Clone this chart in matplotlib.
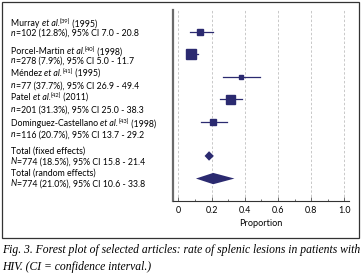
import matplotlib
matplotlib.use("Agg")
import matplotlib.pyplot as plt
from matplotlib.patches import Rectangle

# ========== Data ==========
studies = ["Murray", "Porcel-Martin", "Méndez", "Patel", "Dominguez-Castellano"]
refs = [39, 40, 41, 42, 43]
years = [1995, 1998, 1995, 2011, 1998]
n_pat = [102, 278, 77, 201, 116]
prop = [0.128, 0.079, 0.377, 0.313, 0.207]
ci_lo = [0.070, 0.050, 0.269, 0.250, 0.137]
ci_hi = [0.208, 0.117, 0.494, 0.383, 0.292]

pooled_names = ["Total (fixed effects)", "Total (random effects)"]
pooled_n = [774, 774]
pooled_prop = [0.185, 0.210]
pooled_lo = [0.158, 0.106]
pooled_hi = [0.214, 0.338]

xticks = [0, 0.2, 0.4, 0.6, 0.8, 1.0]
xticklabels = ["0", "0.2", "0.4", "0.6", "0.8", "1.0"]

# ========== Style / layout ==========
W, H = 364, 278
NAVY = "#2b2a70"
study_rows = [0, 1, 2, 3, 4]
pooled_rows = [5.5, 6.5]
square_px = [6, 10, 4, 9, 6]
diamond_half = [0.21, 0.25]
line1_y = [24, 51.7, 73.3, 97.3, 124, 150.7, 173.3]   # text centres, px from top
line2_y = [33.3, 60.7, 85.7, 110, 135, 161.7, 184]

plt.rcParams["font.family"] = ["Lato", "DejaVu Sans"]

fig = plt.figure(figsize=(W / 100, H / 100), dpi=100)
ax = fig.add_axes([172.7 / W, 1 - 200.7 / H, 176.6 / W, 190.7 / H])
renderer = fig.canvas.get_renderer()


def draw_runs(x_px, y_px, runs):
    # runs: (text, style, fontsize, raise_px) placed one after another
    x = x_px
    for s, style, size, up in runs:
        t = fig.text(x / W, 1 - (y_px - up) / H, s, fontsize=size, style=style,
                     va="baseline", ha="left")
        x += t.get_window_extent(renderer).width


# grid
for xt in xticks:
    ax.axvline(xt, color="#c8c8c8", lw=0.7, ls=(0, (2.5, 2)), zorder=0)

# studies
for i in range(len(studies)):
    y = study_rows[i]
    ax.plot([ci_lo[i], ci_hi[i]], [y, y], color=NAVY, lw=0.9, zorder=2)
    ax.plot(prop[i], y, marker="s", ms=square_px[i] * 0.72, color=NAVY,
            mec=NAVY, zorder=3)

# pooled diamonds
for j in range(len(pooled_names)):
    y = pooled_rows[j]
    h = diamond_half[j]
    ax.fill([pooled_lo[j], pooled_prop[j], pooled_hi[j], pooled_prop[j]],
            [y, y - h, y, y + h], color=NAVY, zorder=3, lw=0)

ax.set_xlim(-0.034, 1.03)
ax.set_ylim(7.48, -0.96)
ax.set_yticks([])
ax.set_xticks(xticks)
ax.set_xticklabels(xticklabels, fontsize=6.4)
ax.set_xticks([0.1, 0.3, 0.5, 0.7, 0.9], minor=True)
ax.tick_params(axis="x", which="major", direction="in", length=3, width=0.6,
               color="#555555", pad=4)
ax.tick_params(axis="x", which="minor", direction="in", length=1.5, width=0.6,
               color="#555555")
ax.spines["top"].set_visible(False)
ax.spines["right"].set_visible(False)
ax.spines["left"].set_linewidth(1.6)
ax.spines["left"].set_color("#6a6a6a")
ax.spines["bottom"].set_linewidth(0.8)
ax.spines["bottom"].set_color("#333333")
ax.set_xlabel("Proportion", fontsize=6.6, labelpad=3)

# labels
fs = 6.3
base = 2.4
for i in range(len(studies)):
    draw_runs(11, line1_y[i] + base, [
        (studies[i] + " ", "normal", fs, 0),
        ("et al.", "italic", fs, 0),
        ("[%d]" % refs[i], "normal", 4.2, 2.6),
        (" (%d)" % years[i], "normal", fs, 0),
    ])
    draw_runs(11, line2_y[i] + base, [
        ("n", "italic", fs, 0),
        ("=%d (%.1f%%), 95%% CI %.1f - %.1f" % (n_pat[i], 100 * prop[i],
                                                100 * ci_lo[i], 100 * ci_hi[i]),
         "normal", fs, 0),
    ])
for j in range(len(pooled_names)):
    k = len(studies) + j
    draw_runs(11, line1_y[k] + base, [(pooled_names[j], "normal", fs, 0)])
    draw_runs(11, line2_y[k] + base, [
        ("N", "italic", fs, 0),
        ("=%d (%.1f%%), 95%% CI %.1f - %.1f" % (pooled_n[j], 100 * pooled_prop[j],
                                                100 * pooled_lo[j], 100 * pooled_hi[j]),
         "normal", fs, 0),
    ])

# frame
fig.patches.append(Rectangle((1.5 / W, 1 - 238 / H), 357.5 / W, 236.5 / H,
                             transform=fig.transFigure, fill=False,
                             edgecolor="#333333", lw=0.9))

# caption
cap = ["Fig. 3. Forest plot of selected articles: rate of splenic lesions in patients with",
       "HIV. (CI = confidence interval.)"]
fig.text(2 / W, 1 - 250 / H, cap[0], fontsize=8.4, family="Liberation Serif",
         style="italic", va="center", ha="left")
fig.text(2 / W, 1 - 267 / H, cap[1], fontsize=8.4, family="Liberation Serif",
         style="italic", va="center", ha="left")

fig.savefig("out.png", dpi=100)
